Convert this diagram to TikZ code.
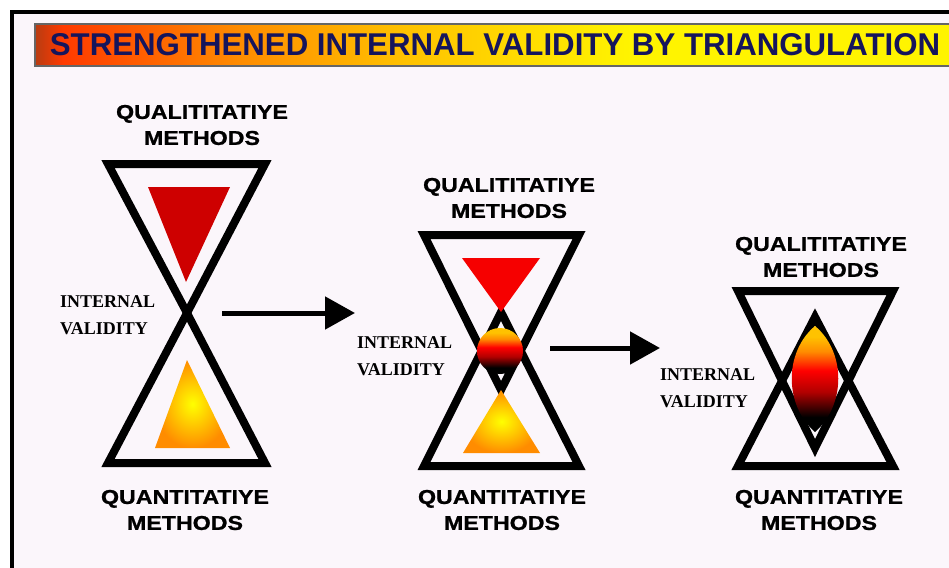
\documentclass[tikz,border=0pt]{standalone}
\usepackage{fontspec}
\setmainfont{Liberation Serif}
\newfontfamily\lblfont[FakeStretch=1.16,FakeBold=1]{Liberation Sans}
\newfontfamily\headfont{Liberation Sans}
\usepackage{graphicx}
\usepackage{xcolor}
\definecolor{paper}{HTML}{FBF6FB}
\definecolor{navytxt}{HTML}{15155C}
\definecolor{tbrown}{HTML}{B83C12}
\definecolor{tred}{HTML}{FF3A00}
\definecolor{torange}{HTML}{FF8C00}
\definecolor{amber}{HTML}{FFC200}
\definecolor{tyellow}{HTML}{FFF400}
\definecolor{darkred}{HTML}{CE0000}
\definecolor{brightred}{HTML}{F60000}
\usepackage{tikz}
\usetikzlibrary{arrows.meta,positioning}
\pgfdeclarehorizontalshading{titlefade}{100bp}{color(0bp)=(tbrown); color(25bp)=(tbrown); color(26.5bp)=(tred); color(36bp)=(torange); color(45bp)=(amber); color(57bp)=(tyellow); color(75bp)=(tyellow); color(100bp)=(tyellow)}
\pgfdeclareverticalshading{fireball}{100bp}{color(0bp)=(black); color(25bp)=(black); color(32bp)=(black); color(44bp)=(red!70!black); color(54bp)=(red); color(63bp)=(torange); color(70bp)=(amber); color(75bp)=(amber); color(100bp)=(amber)}

\begin{document}
\begin{tikzpicture}[x=1pt,y=-1pt,>=Latex]
\tikzset{
 glass/.style={draw=black,line width=8pt,line join=miter},
 methods/.style={font=\lblfont\bfseries\fontsize{20}{26}\selectfont,align=center,inner sep=0pt},
 validity/.style={font=\bfseries\fontsize{18}{27}\selectfont,align=left,inner sep=0pt,anchor=west},
 bigarrow/.style={-{Triangle[length=30pt,width=32pt]},line width=5pt}
}
\useasboundingbox (0,0) rectangle (949,567);
\clip (0,0) rectangle (949,567);
\fill[white] (0,0) rectangle (949,567);
\draw[line width=4pt,fill=paper] (12,12) rectangle (975,595);

% title bar
\path[shading=titlefade,draw=black!60,line width=1.5pt] (35,24) rectangle (965,66);
\node[inner sep=0pt,text=navytxt] (title) at (495,45)
 {\resizebox{890pt}{22pt}{\headfont\bfseries STRENGTHENED INTERNAL VALIDITY BY TRIANGULATION}};

% first glass: methods just touching
\draw[glass] (108,164) -- (265,164) -- (187,313) -- cycle;
\draw[glass] (108,463) -- (265,463) -- (187,313) -- cycle;
\fill[darkred] (148,187) -- (230,187) -- (186,282) -- cycle;
\shade[inner color=yellow,outer color=torange] (155,448) -- (230,448) -- (187,360) -- cycle;
\node[methods] (qual1) at (202,125) {QUALITITATIYE\\METHODS};
\node[methods] (quan1) at (185,510) {QUANTITATIYE\\METHODS};
\node[validity] (valid1) at (60,315) {INTERNAL\\VALIDITY};

% second glass: small overlap
\draw[glass] (424,235) -- (579,235) -- (501,390) -- cycle;
\draw[glass] (424,466) -- (579,466) -- (501,312) -- cycle;
\fill[brightred] (462,258) -- (540,258) -- (501,312) -- cycle;
\shade[inner color=yellow,outer color=torange] (463,453) -- (540,453) -- (501,390) -- cycle;
\shade[shading=fireball] (500,351) circle (23);
\node[methods] (qual2) at (509,198) {QUALITITATIYE\\METHODS};
\node[methods] (quan2) at (502,510) {QUANTITATIYE\\METHODS};
\node[validity] (valid2) at (357,356) {INTERNAL\\VALIDITY};

% third glass: wide overlap
\draw[glass] (738,291) -- (893,291) -- (815,448) -- cycle;
\draw[glass] (738,466) -- (893,466) -- (815,317) -- cycle;
\shade[shading=fireball] (815,326) .. controls (846,352) and (846,405) .. (815,432)
 .. controls (784,405) and (784,352) .. (815,326) -- cycle;
\node[methods] (qual3) at (821,257) {QUALITITATIYE\\METHODS};
\node[methods] (quan3) at (819,510) {QUANTITATIYE\\METHODS};
\node[validity] (valid3) at (660,388) {INTERNAL\\VALIDITY};

\coordinate (arr1a) at (222,313);
\coordinate (arr1b) at (355,313);
\coordinate (arr2a) at (550,348);
\coordinate (arr2b) at (660,348);
\draw[bigarrow] (arr1a) -- (arr1b);
\draw[bigarrow] (arr2a) -- (arr2b);
\end{tikzpicture}
\end{document}
